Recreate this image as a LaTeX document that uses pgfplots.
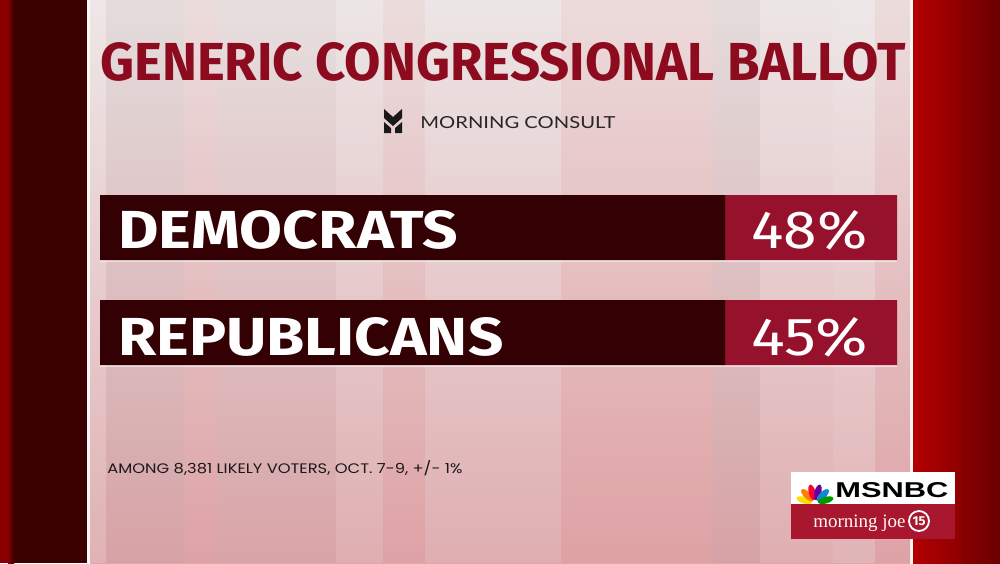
\documentclass[border=0pt]{standalone}
\usepackage{pgfplots}
\pgfplotsset{compat=1.18}
\usepackage{pgfplotstable}
\usepackage{fontspec}
\setmainfont{Fira Sans}
\newfontfamily\notefont{Poppins}
\newfontfamily\mcfont{Lato}
\newfontfamily\joefont{Liberation Serif}
\newfontfamily\nbcfont{Liberation Sans}

\definecolor{ttl}{HTML}{8C0B1F}
\definecolor{darkbar}{HTML}{330003}
\definecolor{redbar}{HTML}{96112B}
\definecolor{pantop}{HTML}{ECE4E4}
\definecolor{panbot}{HTML}{DDA8AB}
\definecolor{leftdark}{HTML}{3B0000}
\definecolor{leftred}{HTML}{8A0000}
\definecolor{rightred}{HTML}{B30003}
\definecolor{rightmid}{HTML}{8E0000}
\definecolor{rightdark}{HTML}{6C0000}
\definecolor{joered}{HTML}{A8172E}

% bar layout in pixels: dark label part 625, red value part 172
\pgfplotstableread{
y     lab          dark red val
32.5  REPUBLICANS  625  172 45
137.5 DEMOCRATS    625  172 48
}\ballot
\pgfplotstablegetelem{0}{val}\of\ballot \xdef\repval{\pgfplotsretval}
\pgfplotstablegetelem{1}{val}\of\ballot \xdef\demval{\pgfplotsretval}

\begin{document}
\begin{tikzpicture}[x=0.5pt, y=-0.5pt]
\useasboundingbox (0,0) rectangle (1000,563);

% frame
\fill[leftred] (0,0) rectangle (8,563);
\shade[left color=leftred, right color=leftdark] (8,0) rectangle (14,563);
\fill[leftdark] (14,0) rectangle (87,563);
\fill[white!85!pink] (87,0) rectangle (90,563);
\shade[left color=rightred, right color=rightmid] (913,0) rectangle (962,563);
\shade[left color=rightmid!80!rightdark, right color=rightdark] (962,0) rectangle (1000,563);
\fill[white!85!pink] (910,0) rectangle (913,563);

% panel
\shade[top color=pantop, bottom color=panbot] (90,0) rectangle (910,563);
\fill[white, opacity=0.12] (90,0) rectangle (106,563);
\fill[black, opacity=0.03] (106,0) rectangle (184,563);
\fill[red, opacity=0.03] (184,0) rectangle (218,563);
\fill[black, opacity=0.02] (218,0) rectangle (336,563);
\fill[white, opacity=0.08] (336,0) rectangle (383,563);
\fill[red, opacity=0.03] (383,0) rectangle (425,563);
\fill[white, opacity=0.08] (425,0) rectangle (561,563);
\fill[red, opacity=0.04] (561,0) rectangle (713,563);
\fill[black, opacity=0.03] (713,0) rectangle (760,563);
\fill[white, opacity=0.08] (760,0) rectangle (833,563);
\fill[white, opacity=0.14] (833,0) rectangle (875,563);
\fill[red, opacity=0.03] (875,0) rectangle (910,563);

% title
\node[anchor=base west, inner sep=0, text=ttl] at (100,80)
  {\resizebox{402.5pt}{19pt}{\bfseries GENERIC CONGRESSIONAL BALLOT}};

% source logo
\fill[black!90] (384,109) -- (393,117) -- (402,109) -- (402,118) -- (393,126) -- (384,118) -- cycle;
\fill[black!90] (384,122) -- (391,128) -- (391,133) -- (384,133) -- cycle;
\fill[black!90] (402,122) -- (395,128) -- (395,133) -- (402,133) -- cycle;
\node[anchor=base west, inner sep=0, text=black!85] at (420,128)
  {\resizebox{97.5pt}{6pt}{\mcfont MORNING CONSULT}};

% bar shadows
\fill[white, opacity=0.5] (100,260) rectangle (897,262);
\fill[white, opacity=0.5] (100,365) rectangle (897,367);

\coordinate (axpos) at (100,365);
\begin{scope}[x=1cm, y=1cm]
\begin{axis}[
    at={(axpos)}, anchor=south west,
    scale only axis, width=398.5pt, height=85pt,
    xmin=0, xmax=797, ymin=0, ymax=170,
    xbar stacked, bar width=32.5pt,
    hide axis, clip=false,
]
\addplot[fill=darkbar, draw=none] table[x=dark, y=y] {\ballot};
\addplot[fill=redbar, draw=none] table[x=red, y=y] {\ballot};
\end{axis}
\end{scope}

% bar texts
\node[anchor=base west, inner sep=0, text=white] at (118,248)
  {\resizebox{170pt}{19pt}{\bfseries DEMOCRATS}};
\node[anchor=base west, inner sep=0, text=white] at (118,355)
  {\resizebox{192.5pt}{19pt}{\bfseries REPUBLICANS}};
\node[anchor=base east, inner sep=0, text=white] at (868,248)
  {\resizebox{58pt}{19pt}{\demval\%}};
\node[anchor=base east, inner sep=0, text=white] at (868,355)
  {\resizebox{58pt}{19pt}{\repval\%}};

% footnote
\node[anchor=base west, inner sep=0, text=black!90] at (107,473)
  {\resizebox{177.5pt}{6.5pt}{\notefont AMONG 8,381 LIKELY VOTERS, OCT. 7-9, +/- 1\%}};

% network badge
\fill[white] (791,472) rectangle (955,504);
\fill[joered] (791,504) rectangle (955,539);
\foreach \a/\c in {165/{yellow!80!orange}, 135/orange, 105/{red!80!magenta}, 75/{violet!80!blue}, 45/{cyan!70!blue}, 15/{green!60!black}} {
  \fill[\c, rotate around={\a:({815+11*cos(\a)},{503-11*sin(\a)})}]
    ({815+11*cos(\a)},{503-11*sin(\a)}) ellipse [x radius=8, y radius=3.4];
}
\node[anchor=base west, inner sep=0] at (835,497)
  {\resizebox{56.5pt}{7.5pt}{\nbcfont\bfseries MSNBC}};
\node[anchor=base west, inner sep=0, text=white!92!pink] at (813,527)
  {\resizebox{46pt}{!}{\joefont\fontsize{9.5}{10}\selectfont morning joe}};
\draw[white, line width=0.9pt] (919,521) circle (10);
\node[text=white, inner sep=0] at (919,521) {\fontsize{6.5}{7}\selectfont\bfseries 15};
\end{tikzpicture}
\end{document}
